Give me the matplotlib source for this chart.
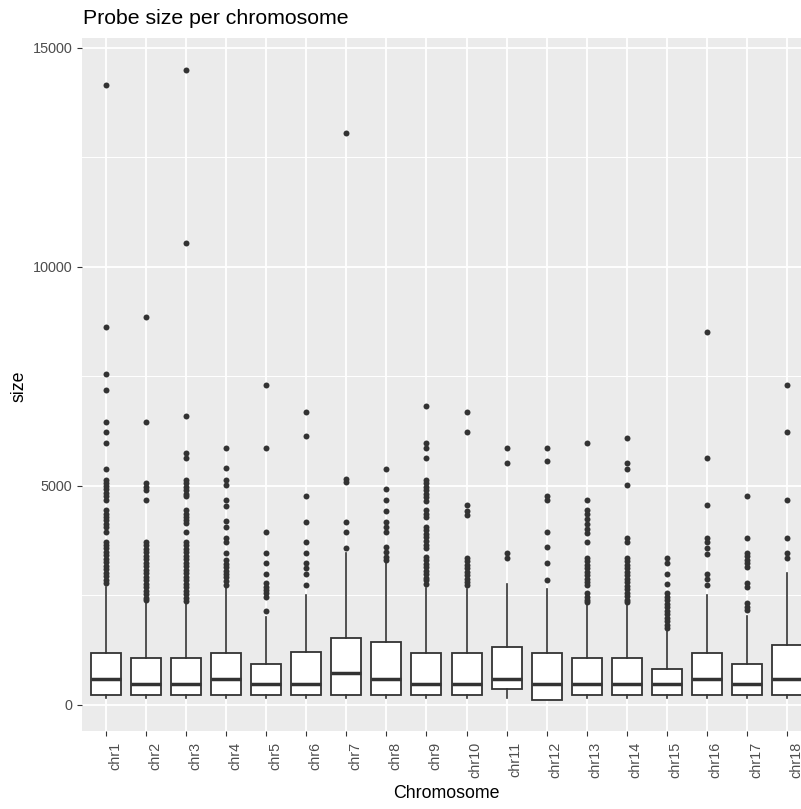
import matplotlib
matplotlib.use('Agg')
import matplotlib.pyplot as plt
import matplotlib.transforms as mtransforms

plt.rcParams['font.family'] = ['Liberation Sans', 'DejaVu Sans']

chroms = ['chr%d' % i for i in range(1, 19)]

# box statistics per chromosome
q1 = [220, 220, 220, 220, 220, 220, 220, 220, 220, 220, 358, 107, 220, 220, 220, 220, 220, 220]
medians = [600, 486, 486, 600, 486, 486, 730, 600, 486, 486, 600, 486, 486, 486, 486, 600, 486, 600]
q3 = [1187, 1073, 1073, 1187, 936, 1217, 1537, 1430, 1187, 1187, 1316, 1187, 1073, 1073, 829, 1187, 936, 1370]
whis_lo = [155, 155, 155, 155, 155, 155, 155, 155, 155, 155, 160, 107, 155, 155, 155, 155, 155, 155]
whis_hi = [2690, 2336, 2336, 2664, 2016, 2511, 3463, 3290, 2664, 2641, 2762, 2641, 2283, 2283, 1697, 2511, 2032, 3007]

outliers = [
    [14150, 8620, 7550, 7190, 6450, 6230, 5990, 5380, 5140, 5060, 4990, 4920, 4840, 4760, 4690,
     4450, 4370, 4300, 4220, 4140, 4060, 3960, 3730, 3650, 3580, 3500, 3420, 3340, 3260, 3180,
     3100, 3020, 2940, 2860, 2780],
    [8850, 6450, 5060, 4980, 4910, 4680, 3730, 3650, 3570, 3490, 3410, 3330, 3250, 3170, 3090,
     3010, 2930, 2850, 2770, 2690, 2610, 2530, 2450, 2390],
    [14500, 10540, 6590, 5750, 5630, 5140, 5060, 4980, 4900, 4820, 4770, 4450, 4370, 4300, 4220,
     4160, 3960, 3730, 3650, 3570, 3490, 3410, 3330, 3250, 3170, 3090, 3010, 2930, 2850, 2770,
     2690, 2610, 2530, 2450, 2380],
    [5870, 5400, 5140, 5030, 4680, 4550, 4190, 4070, 3820, 3710, 3460, 3310, 3230, 3150, 3070,
     2990, 2920, 2840, 2740],
    [7300, 5870, 3960, 3460, 3240, 2990, 2780, 2700, 2620, 2550, 2470, 2150],
    [6700, 6150, 4780, 4180, 3710, 3460, 3240, 3120, 3000, 2740],
    [13070, 5150, 5080, 4180, 3960, 3590],
    [5380, 4920, 4670, 4420, 4180, 4070, 3960, 3610, 3500, 3390, 3310],
    [6830, 5990, 5870, 5630, 5140, 5060, 4980, 4900, 4820, 4740, 4650, 4450, 4370, 4300, 4070,
     3990, 3910, 3830, 3740, 3660, 3580, 3390, 3310, 3230, 3150, 3070, 2990, 2910, 2850, 2770],
    [6700, 6230, 4560, 4440, 4330, 3360, 3280, 3200, 3120, 3040, 2960, 2880, 2800, 2740],
    [5870, 5520, 3460, 3350],
    [5870, 5570, 4780, 4670, 3960, 3600, 3240, 2860],
    [5990, 4670, 4450, 4350, 4240, 4130, 4020, 3920, 3710, 3360, 3280, 3200, 3120, 3040, 2960,
     2880, 2800, 2740, 2550, 2470, 2400, 2340],
    [6100, 5520, 5380, 5020, 3820, 3710, 3360, 3280, 3200, 3120, 3040, 2960, 2880, 2800, 2720,
     2640, 2560, 2480, 2400, 2340],
    [3360, 3240, 2990, 2760, 2550, 2470, 2390, 2310, 2230, 2150, 2070, 1990, 1910, 1830, 1760],
    [8510, 5630, 4560, 3820, 3710, 3590, 3450, 3000, 2870, 2740],
    [4780, 3820, 3480, 3400, 3310, 3240, 3160, 2780, 2700, 2320, 2240, 2170],
    [7300, 6230, 4670, 3820, 3460, 3350],
]

yticks = [0, 5000, 10000, 15000]
yminor = [2500, 7500, 12500]

stats = []
for i in range(len(chroms)):
    stats.append(dict(label=chroms[i], med=medians[i], q1=q1[i], q3=q3[i],
                      whislo=whis_lo[i], whishi=whis_hi[i], fliers=outliers[i]))

fig = plt.figure(figsize=(8.01, 8.09), dpi=100)
# panel runs past the right edge of the figure
ax = fig.add_axes([82 / 801, 78 / 809, 729 / 801, 693 / 809])
ax.set_facecolor('#EBEBEB')
for s in ax.spines.values():
    s.set_visible(False)

dark = '#333333'
ax.bxp(stats, positions=range(1, 19), widths=0.75, patch_artist=True, showcaps=False,
       boxprops=dict(facecolor='white', edgecolor=dark, linewidth=1.3),
       medianprops=dict(color=dark, linewidth=2.5),
       whiskerprops=dict(color=dark, linewidth=1.2),
       flierprops=dict(marker='o', markerfacecolor=dark, markeredgecolor=dark,
                       markeredgewidth=0, markersize=4.3),
       zorder=3)

ax.set_xlim(0.4, 18.6)
ax.set_ylim(-594, 15228)
ax.set_xticks(range(1, 19))
ax.set_xticklabels(chroms, rotation=90, ha='center', va='top')
ax.set_yticks(yticks)
ax.set_yticklabels([str(v) for v in yticks])
ax.set_yticks(yminor, minor=True)

ax.grid(True, which='major', color='white', linewidth=1.3, zorder=0)
ax.grid(True, which='minor', axis='y', color='white', linewidth=0.7, zorder=0)
ax.set_axisbelow(True)

ax.tick_params(axis='both', which='major', color=dark, length=3.6, width=0.8,
               labelcolor='#4D4D4D', labelsize=10.4)
ax.tick_params(axis='x', pad=4.3)
ax.tick_params(axis='y', pad=3.2)
ax.tick_params(axis='y', which='minor', length=0)

shift = mtransforms.ScaledTranslation(9 / 100, 0, fig.dpi_scale_trans)
for lab in ax.get_xticklabels():
    lab.set_transform(lab.get_transform() + shift)

fig.text(83 / 801, 1 - 18 / 809, 'Probe size per chromosome', fontsize=15.3,
         ha='left', va='center', color='black')
fig.text(446.5 / 801, 1 - 794 / 809, 'Chromosome', fontsize=12.8,
         ha='center', va='center', color='black')
fig.text(19 / 801, 1 - 386 / 809, 'size', fontsize=12.8, rotation=90,
         ha='center', va='center', color='black')

fig.savefig('out.png', dpi=100)
